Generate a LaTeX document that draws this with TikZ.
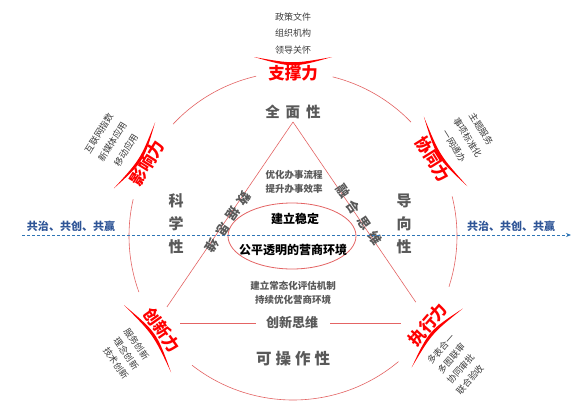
\documentclass[tikz,border=0pt]{standalone}
\usepackage{fontspec}
\setmainfont{Noto Sans CJK SC}
\usetikzlibrary{calc,arrows.meta}
\definecolor{lred}{RGB}{228,100,100}
\definecolor{bred}{RGB}{255,0,0}
\definecolor{tgray}{RGB}{89,89,89}
\definecolor{dgray}{RGB}{60,60,60}
\definecolor{tblue}{RGB}{47,85,151}
\definecolor{lblue}{RGB}{46,117,182}
\newcommand{\gapp}[1]{\hspace{#1pt}}
\tikzset{
  ring/.style={draw=lred, line width=0.6pt},
  powtxt/.style={text=bred, font=\fontsize{16.5}{18}\selectfont\bfseries, inner sep=0pt},
  smalltxt/.style={text=dgray, font=\fontsize{9}{10}\selectfont, inner sep=0pt},
  headtxt/.style={text=tgray, font=\fontsize{14.5}{16}\selectfont\bfseries, inner sep=0pt},
  vtxt/.style={text=tgray, font=\fontsize{15}{23}\selectfont\bfseries, inner sep=0pt, align=center},
  midtxt/.style={text=tgray, font=\fontsize{9.5}{11}\selectfont\bfseries, inner sep=0pt},
  thinktxt/.style={text=tgray, font=\fontsize{13}{14}\selectfont\bfseries, inner sep=0pt},
  coretxt/.style={text=black, font=\fontsize{12}{13}\selectfont\bfseries, inner sep=0pt},
  bluetxt/.style={text=tblue, font=\fontsize{11}{12}\selectfont\bfseries, inner sep=0pt},
  stroketop/.style={fill=bred, draw=none},
}
\begin{document}
\begin{tikzpicture}[x=1pt, y=-1pt]
\fill[white] (0,0) rectangle (583,415);
\useasboundingbox (0,0) rectangle (583,415);

% big circle with gaps
\coordinate (O) at (293,236);
\draw[ring] ($(O)+(-103:164)$) arc[start angle=-103, end angle=-137, radius=164];
\draw[ring] ($(O)+(-167:164)$) arc[start angle=-167, end angle=-200, radius=164];
\draw[ring] ($(O)+(-232:164)$) arc[start angle=-232, end angle=-310, radius=164];
\draw[ring] ($(O)+(18:164)$) arc[start angle=18, end angle=-14, radius=164];
\draw[ring] ($(O)+(-44:164)$) arc[start angle=-44, end angle=-76, radius=164];

% triangle
\coordinate (TA) at (293,122);
\coordinate (TL) at (156,323);
\coordinate (TR) at (430,323);
\draw[ring] (TA) -- ($(TA)!0.92!(TL)$);
\draw[ring] (TA) -- ($(TA)!0.896!(TR)$);
\coordinate (B1) at (180,323);
\coordinate (B2) at (256,323);
\coordinate (B3) at (330,323);
\coordinate (B4) at (401,323);
\draw[ring] (B1) -- (B2);
\draw[ring] (B3) -- (B4);

% inner ellipse
\coordinate (E) at (292,236);
\draw[ring, line width=0.8pt] (E) ellipse [x radius=64, y radius=33];

% central texts
\node[coretxt] (core1) at (295,219) {建立稳定};
\node[coretxt] (core2) at (293,250) {公平透明的营商环境};
\node[midtxt] (opt1) at (294,175) {优化办事流程};
\node[midtxt] (opt2) at (294,189) {提升办事效率};
\node[midtxt] (eval1) at (293,286) {建立常态化评估机制};
\node[midtxt] (eval2) at (293,300) {持续优化营商环境};
\node[headtxt] (qm) at (293,112) {全\gapp{6}面\gapp{6}性};
\node[vtxt] (kx) at (176,224) {科\\学\\性};
\node[vtxt] (dx) at (404,224) {导\\向\\性};
\node[thinktxt] (cxsw) at (292,323) {创新思维};
\node[headtxt, font=\fontsize{15.5}{17}\selectfont\bfseries] (kczx) at (293,359) {可\gapp{4}操\gapp{4}作\gapp{4}性};
\node[thinktxt, rotate=-124] (sjsw) at (228,222) {数\gapp{6}据\gapp{6}思\gapp{6}维};
\node[thinktxt, rotate=-55.5] (rhsw) at (359,215) {融\gapp{6}合\gapp{6}思\gapp{6}维};

% top cluster
\begin{scope}[shift={(293,60)}, transform shape]
  \fill[stroketop] (-39,-3) .. controls (0,4) .. (39,-3) .. controls (0,8) .. (-39,-3) -- cycle;
  \node[powtxt] (zcl) at (0,13) {支撑力};
  \node[smalltxt] (zc1) at (0,-10) {领导关怀};
  \node[smalltxt] (zc2) at (0,-27) {组织机构};
  \node[smalltxt] (zc3) at (0,-43) {政策文件};
\end{scope}

% upper right cluster
\begin{scope}[shift={(443,153)}, rotate=-58, transform shape]
  \fill[stroketop] (-41,-3) .. controls (0,4) .. (41,-3) .. controls (0,8) .. (-41,-3) -- cycle;
  \node[powtxt] (xtl) at (0,12) {协同力};
  \node[smalltxt] (xt1) at (0,-13) {一网通办};
  \node[smalltxt] (xt2) at (0,-29) {事项标准化};
  \node[smalltxt] (xt3) at (0,-45) {主题服务};
\end{scope}

% upper left cluster
\begin{scope}[shift={(137,157)}, rotate=58, transform shape]
  \fill[stroketop] (-39,-3) .. controls (0,4) .. (39,-3) .. controls (0,8) .. (-39,-3) -- cycle;
  \node[powtxt] (yxl) at (0,12) {影响力};
  \node[smalltxt] (yx1) at (0,-13) {移动应用};
  \node[smalltxt] (yx2) at (0,-29) {新媒体应用};
  \node[smalltxt] (yx3) at (0,-45) {互联网指数};
\end{scope}

% lower left cluster
\begin{scope}[shift={(150,337)}, rotate=-55, transform shape]
  \fill[stroketop] (-41,3) .. controls (0,-4) .. (41,3) .. controls (0,-8) .. (-41,3) -- cycle;
  \node[powtxt] (cxl) at (1,-14) {创新力};
  \node[smalltxt] (cx1) at (-2,15) {服务创新};
  \node[smalltxt] (cx2) at (0,29) {理念创新};
  \node[smalltxt] (cx3) at (2,43) {技术创新};
\end{scope}

% lower right cluster
\begin{scope}[shift={(435,336)}, rotate=49, transform shape]
  \fill[stroketop] (-39,3) .. controls (0,-4) .. (39,3) .. controls (0,-8) .. (-39,3) -- cycle;
  \node[powtxt] (zxl) at (4,-13) {执行力};
  \node[smalltxt] (zx1) at (-6,13) {多表合一};
  \node[smalltxt] (zx2) at (-6,27) {多图联审};
  \node[smalltxt] (zx3) at (-8,41) {协同审批};
  \node[smalltxt] (zx4) at (-10,55) {联合验收};
\end{scope}

% blue axis
\node[bluetxt] (gzl) at (71,226) {共治、共创、共赢};
\node[bluetxt] (gzr) at (511,226) {共治、共创、共赢};
\coordinate (AL) at (22,235);
\coordinate (AR) at (571,235);
\draw[lblue, line width=0.9pt, dash pattern=on 3pt off 2pt, -{Stealth[length=5pt,width=4pt]}] (AL) -- (AR);
\end{tikzpicture}
\end{document}
